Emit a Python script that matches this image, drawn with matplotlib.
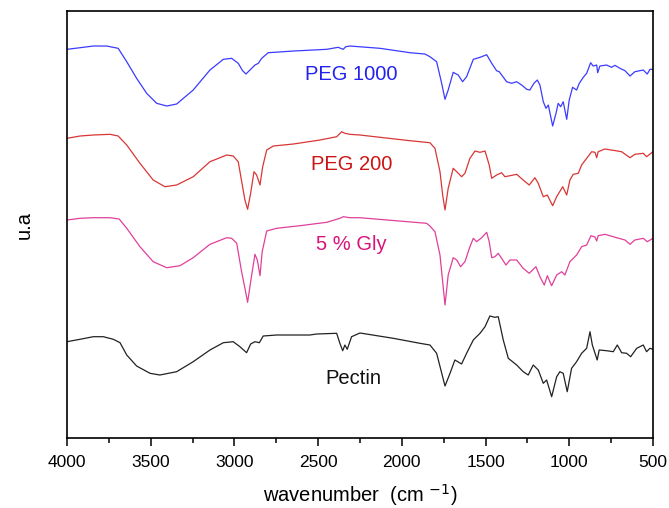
import numpy as np
import matplotlib
matplotlib.use('Agg')
import matplotlib.pyplot as plt
from matplotlib.ticker import MultipleLocator

plt.rcParams['font.family'] = ['Liberation Sans', 'DejaVu Sans']

# spectra: wavenumber [cm-1] and offset intensity [u.a]
peg1000_w = [4000, 3922, 3843, 3763, 3694, 3643, 3584, 3524, 3464, 3404, 3345, 3246, 3146, 3066,
             3016, 2977, 2951, 2931, 2907, 2877, 2857, 2837, 2798, 2648, 2449, 2380, 2350, 2335,
             2310, 2130, 1951, 1862, 1832, 1792, 1762, 1742, 1723, 1693, 1663, 1637, 1613, 1573,
             1533, 1493, 1463, 1434, 1418, 1374, 1344, 1314, 1284, 1254, 1235, 1211, 1191, 1175,
             1155, 1139, 1125, 1099, 1079, 1066, 1051, 1036, 1015, 1000, 980, 956, 940, 916, 896,
             872, 857, 836, 830, 817, 777, 747, 727, 697, 667, 637, 608, 558, 534, 518, 500]
peg1000_i = [388.7, 390.3, 392, 392, 389.7, 376.3, 359.7, 344.7, 334.7, 332, 334, 348, 368, 378.7,
             379.7, 374.7, 367.3, 364, 368, 373, 374.7, 379.7, 385.3, 387, 388.7, 390.7, 388.7, 391.3,
             392, 389.7, 385.3, 384, 381.3, 376.3, 354.7, 338.7, 348, 365.7, 363, 356.3, 361.3, 378.7,
             380.7, 383.3, 374.7, 367.3, 366.3, 356.3, 354.7, 356.3, 353, 348.7, 348, 354.7, 358, 353,
             336.3, 329.7, 333, 312, 324.7, 334.7, 331.3, 336.3, 318.7, 338, 350.7, 348, 354.7, 360.7, 364.7,
             375.3, 372, 373, 365.3, 372, 373, 370.7, 372.7, 369.7, 367.3, 362, 366.3, 368, 364, 368.7, 368.7]

peg200_w = [4000, 3922, 3843, 3743, 3694, 3643, 3564, 3485, 3415, 3345, 3246, 3146, 3046, 3007,
            2977, 2951, 2937, 2921, 2903, 2883, 2867, 2847, 2831, 2807, 2768, 2648, 2489, 2389,
            2359, 2340, 2310, 2250, 1951, 1832, 1802, 1772, 1756, 1742, 1723, 1693, 1672, 1643,
            1623, 1593, 1563, 1533, 1503, 1478, 1463, 1434, 1404, 1384, 1354, 1314, 1275, 1239,
            1205, 1185, 1155, 1131, 1099, 1075, 1039, 1015, 996, 976, 946, 926, 896, 866, 846,
            836, 827, 787, 737, 687, 637, 608, 558, 538, 500]
peg200_i = [299.7, 302, 303, 303.7, 302, 293, 274.7, 258, 251.3, 253, 261.3, 276.3, 283, 282,
            276.3, 251.3, 238, 228.7, 244.7, 266.3, 263, 253, 271.3, 288, 292, 294, 298, 301.3,
            306.3, 304.7, 303.7, 303, 297.3, 295.3, 289.7, 266.3, 243, 228, 249.7, 269.7, 266.3, 261.3,
            264.7, 279.7, 287, 285.7, 287, 273, 259.7, 263, 265.3, 261.3, 262.3, 263.7, 258, 253,
            260.3, 254.7, 241.3, 243, 232.3, 241.3, 251.3, 243, 258, 263.7, 264.7, 273, 279.7, 286.3, 285.7,
            280.3, 286.3, 289, 287.7, 286.3, 280.3, 283.7, 284.7, 281.3, 286.3]

gly_w = [4000, 3922, 3843, 3743, 3688, 3643, 3564, 3485, 3404, 3325, 3246, 3146, 3046, 3016,
         2986, 2957, 2937, 2921, 2903, 2877, 2863, 2847, 2834, 2807, 2748, 2608, 2449, 2370,
         2350, 2310, 2250, 1852, 1832, 1802, 1772, 1756, 1742, 1723, 1693, 1672, 1649, 1623,
         1593, 1573, 1553, 1523, 1493, 1478, 1463, 1444, 1424, 1404, 1378, 1354, 1314, 1275,
         1239, 1199, 1175, 1149, 1131, 1105, 1075, 1045, 1026, 996, 956, 926, 896, 870, 846,
         836, 827, 787, 717, 667, 637, 608, 558, 534, 500]
gly_i = [218, 219.7, 220.3, 220.3, 219, 209.7, 191.3, 176.3, 170.3, 172.3, 180.3, 193.7, 200.3, 199.7,
         194.7, 166.3, 149.7, 135.7, 156.3, 183.7, 178, 162.3, 186.3, 207, 209.7, 212.3, 215.7, 219.7,
         221.3, 220.3, 220.3, 214.7, 212, 206.3, 183, 156.3, 133, 163, 180.3, 178, 171.3, 176.3,
         191.3, 199.7, 196.3, 200.3, 205.7, 196.3, 180.3, 181.3, 184.7, 179.7, 173, 178, 178, 169.7,
         164.7, 171.3, 161.3, 153, 162.3, 152.3, 163, 166.3, 163, 176.3, 183, 191.3, 193, 202.3, 201,
         197, 202.3, 203.7, 200.3, 198, 193.7, 198, 199.7, 196.3, 199.7]

pectin_w = [4000, 3922, 3843, 3783, 3723, 3683, 3643, 3584, 3504, 3445, 3345, 3246, 3146, 3066,
            3007, 2967, 2927, 2903, 2877, 2851, 2828, 2748, 2549, 2509, 2389, 2370, 2353, 2340,
            2326, 2300, 2250, 2051, 1892, 1832, 1792, 1742, 1712, 1683, 1643, 1613, 1573, 1533,
            1503, 1474, 1444, 1424, 1394, 1364, 1314, 1275, 1245, 1215, 1185, 1155, 1135, 1105,
            1075, 1056, 1036, 1012, 986, 956, 926, 896, 876, 862, 833, 821, 777, 737, 713, 687,
            657, 633, 597, 558, 538, 518, 500]
pectin_i = [96.3, 98.7, 101.3, 101.3, 98.7, 95.3, 83, 72, 64.7, 63, 66.3, 76.3, 88, 95.3,
            96.3, 91.3, 85.3, 94, 96.3, 95.3, 102, 103, 103, 104, 104.7, 94.7, 87.3, 93,
            88.7, 101.3, 105, 99.7, 94.7, 93, 84.7, 52, 64.7, 78, 74, 84.7, 98, 104.7,
            111.3, 122, 120.7, 121.3, 98, 79.7, 73, 66.3, 63, 73, 68, 54.7, 58, 41.3,
            61.3, 66.3, 64.7, 46.3, 69.7, 76.3, 84.7, 89.7, 106.3, 93, 78, 88, 87.3, 86.3, 93, 85.3,
            84.7, 81.3, 89.7, 93, 86.3, 89.7, 88.7]

fig = plt.figure(figsize=(6.69, 5.08), dpi=100)
ax = fig.add_axes([0.1001, 0.1378, 0.8759, 0.8405])

ax.plot(peg1000_w, peg1000_i, color='#3b3bff', lw=0.9)
ax.plot(peg200_w, peg200_i, color='#d93636', lw=0.9)
ax.plot(gly_w, gly_i, color='#e0409a', lw=0.9)
ax.plot(pectin_w, pectin_i, color='#222222', lw=0.9)

ax.text(2300, 364, 'PEG 1000', color='#2222ee', fontsize=14.5, ha='center', va='center')
ax.text(2300, 274, 'PEG 200', color='#cc1414', fontsize=14.5, ha='center', va='center')
ax.text(2300, 194, '5 % Gly', color='#d8137a', fontsize=14.5, ha='center', va='center')
ax.text(2290, 60, 'Pectin', color='#111111', fontsize=14.5, ha='center', va='center')

ax.set_xlim(4000, 500)
ax.set_ylim(0, 427)
ax.xaxis.set_major_locator(MultipleLocator(500))
ax.xaxis.set_minor_locator(MultipleLocator(250))
ax.tick_params(axis='x', which='major', direction='out', length=6, width=1.1, labelsize=12.5, pad=6)
ax.tick_params(axis='x', which='minor', direction='out', length=3.5, width=1.1)
ax.set_yticks([])
for s in ax.spines.values():
    s.set_linewidth(1.2)

ax.set_xlabel(r'wavenumber  (cm $^{-1}$)', fontsize=14.5, labelpad=9)
ax.set_ylabel('u.a', fontsize=14.5, labelpad=24)

fig.savefig('out.png', dpi=100)
